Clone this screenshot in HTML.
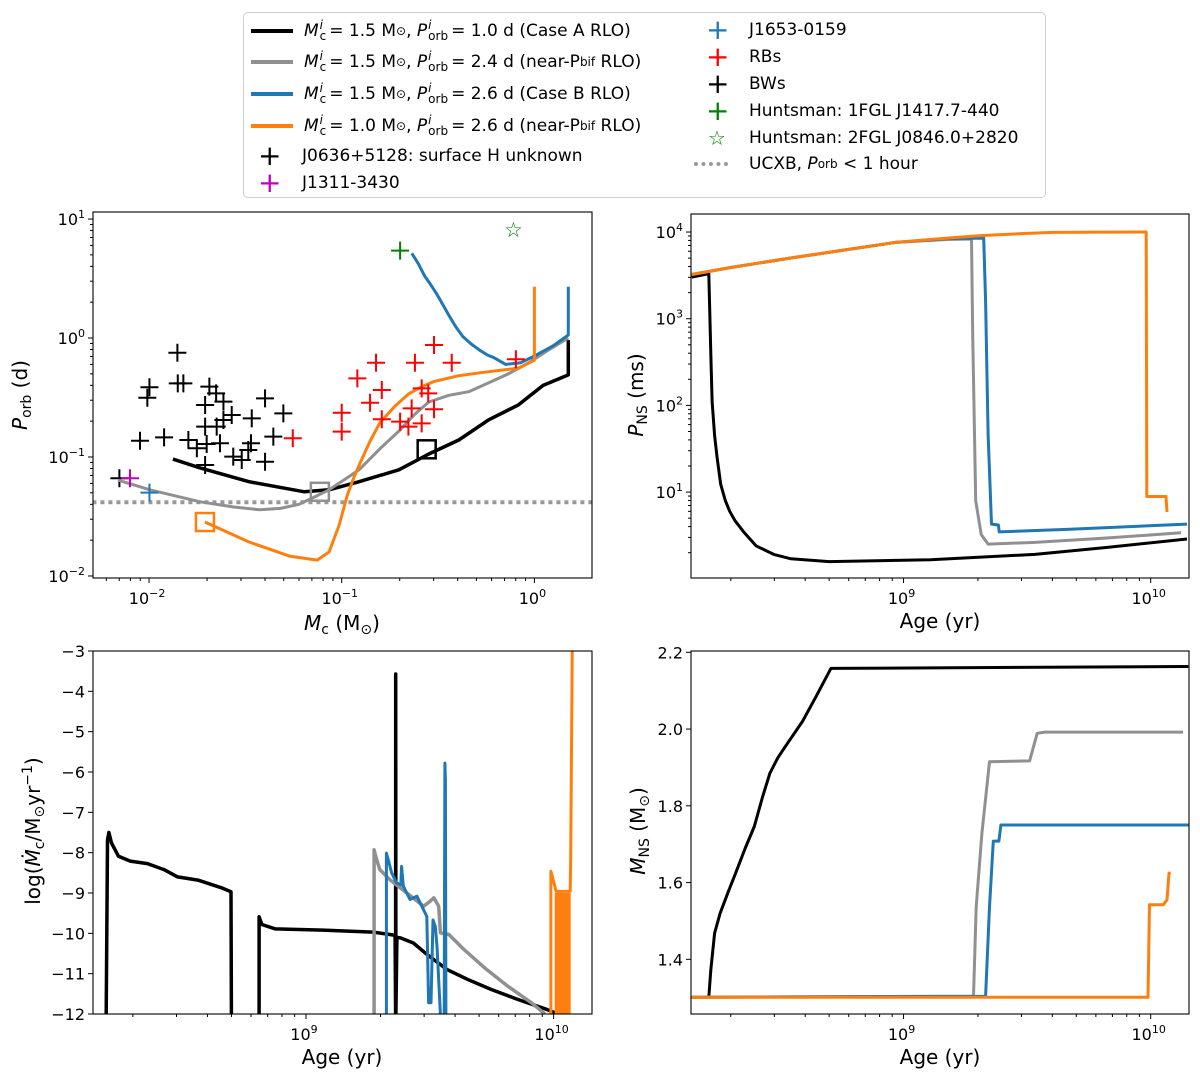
<!DOCTYPE html>
<html><head><meta charset="utf-8">
<style>
html,body{margin:0;padding:0;background:#fff;}
#wrap{position:relative;width:1200px;height:1080px;overflow:hidden;font-family:"DejaVu Sans","Liberation Sans",sans-serif;}
#legend{position:absolute;left:243px;top:12px;width:801px;height:184px;border:1px solid #cfcfcf;border-radius:5px;background:#fff;}
.lrow{position:absolute;height:26px;display:flex;align-items:center;font-size:17px;color:#000;white-space:nowrap;}
.ss{display:inline-flex;flex-direction:column;font-size:12px;line-height:11px;vertical-align:middle;margin:0 3px 0 1px;}
.ss span:first-child{font-style:italic;}
.sub{font-size:12px;vertical-align:-4px;}
svg text{font-family:"DejaVu Sans","Liberation Sans",sans-serif;}
</style></head>
<body>
<div id="wrap">
<svg id="fig" width="1200" height="1080" xmlns="http://www.w3.org/2000/svg" style="position:absolute;left:0;top:0"></svg>
<div id="legend">
  <div class="lrow" style="left:7px;top:5px"><span style="display:inline-block;width:42px;height:4px;background:#000;margin-right:11px"></span><i>M</i><span class="ss"><span>i</span><span>c</span></span>= 1.5 M<span class="sub">⊙</span>, <i>&nbsp;P</i><span class="ss"><span>i</span><span>orb</span></span>= 1.0 d (Case A RLO)</div>
  <div class="lrow" style="left:7px;top:36px"><span style="display:inline-block;width:42px;height:4px;background:#909090;margin-right:11px"></span><i>M</i><span class="ss"><span>i</span><span>c</span></span>= 1.5 M<span class="sub">⊙</span>, <i>&nbsp;P</i><span class="ss"><span>i</span><span>orb</span></span>= 2.4 d (near-P<span class="sub">bif</span>&nbsp;RLO)</div>
  <div class="lrow" style="left:7px;top:68px"><span style="display:inline-block;width:42px;height:4px;background:#1f77b4;margin-right:11px"></span><i>M</i><span class="ss"><span>i</span><span>c</span></span>= 1.5 M<span class="sub">⊙</span>, <i>&nbsp;P</i><span class="ss"><span>i</span><span>orb</span></span>= 2.6 d (Case B RLO)</div>
  <div class="lrow" style="left:7px;top:100px"><span style="display:inline-block;width:42px;height:4px;background:#ff7f0e;margin-right:11px"></span><i>M</i><span class="ss"><span>i</span><span>c</span></span>= 1.0 M<span class="sub">⊙</span>, <i>&nbsp;P</i><span class="ss"><span>i</span><span>orb</span></span>= 2.6 d (near-P<span class="sub">bif</span>&nbsp;RLO)</div>
  <div class="lrow" style="left:14px;top:130px"><span style="display:inline-block;width:22px;font-size:28px;line-height:20px;color:#000;margin-right:22px;text-align:center">+</span>J0636+5128: surface H unknown</div>
  <div class="lrow" style="left:14px;top:157px"><span style="display:inline-block;width:22px;font-size:28px;line-height:20px;color:#bf00bf;margin-right:22px;text-align:center">+</span>J1311-3430</div>
  <div class="lrow" style="left:462px;top:4px"><span style="display:inline-block;width:22px;font-size:28px;line-height:20px;color:#1f77b4;margin-right:21px;text-align:center">+</span>J1653-0159</div>
  <div class="lrow" style="left:462px;top:31px"><span style="display:inline-block;width:22px;font-size:28px;line-height:20px;color:#ff0000;margin-right:21px;text-align:center">+</span>RBs</div>
  <div class="lrow" style="left:462px;top:58px"><span style="display:inline-block;width:22px;font-size:28px;line-height:20px;color:#000;margin-right:21px;text-align:center">+</span>BWs</div>
  <div class="lrow" style="left:462px;top:85px"><span style="display:inline-block;width:22px;font-size:28px;line-height:20px;color:#008000;margin-right:21px;text-align:center">+</span>Huntsman: 1FGL J1417.7-440</div>
  <div class="lrow" style="left:462px;top:112px"><span style="display:inline-block;width:22px;font-size:20px;line-height:20px;color:#008000;margin-right:21px;text-align:center">☆</span>Huntsman: 2FGL J0846.0+2820</div>
  <div class="lrow" style="left:450px;top:138px"><span style="display:inline-block;width:34px;height:0;border-top:4px dotted #999;margin-right:21px"></span>UCXB, <i>&nbsp;P</i><span class="sub">orb</span>&nbsp;&lt; 1 hour</div>
</div>
</div>
<script>
// ---------- Panel 1 data: Mc (Msun) vs Porb (d) ----------
const p1BlackMc   = [0.0133,0.0184,0.033,0.064,0.086,0.123,0.198,0.283,0.405,0.578,0.826,1.11,1.50,1.50];
const p1BlackPorb = [0.096,0.081,0.062,0.051,0.053,0.062,0.078,0.106,0.139,0.205,0.274,0.40,0.49,0.96];
const p1GrayMc    = [0.0069,0.0101,0.0184,0.0275,0.0375,0.048,0.060,0.072,0.086,0.104,0.123,0.16,0.198,0.24,0.283,0.36,0.456,0.58,0.734,0.95,1.18,1.50];
const p1GrayPorb  = [0.064,0.053,0.042,0.038,0.036,0.037,0.040,0.046,0.053,0.065,0.078,0.12,0.165,0.23,0.29,0.33,0.354,0.42,0.50,0.63,0.79,1.0];
const p1BlueMc    = [0.231,0.25,0.27,0.29,0.31,0.335,0.36,0.39,0.425,0.47,0.52,0.57,0.62,0.71,0.85,0.99,1.25,1.5,1.5];
const p1BluePorb  = [5.15,4.2,3.3,2.8,2.37,1.9,1.55,1.25,1.03,0.89,0.79,0.72,0.68,0.60,0.62,0.70,0.86,1.06,2.7];
const p1OrangeMc  = [0.0195,0.033,0.0535,0.0746,0.086,0.097,0.107,0.116,0.125,0.14,0.158,0.19,0.223,0.26,0.30,0.40,0.52,0.83,1.0,1.0];
const p1OrangePorb= [0.0284,0.0193,0.0147,0.0136,0.0159,0.0268,0.048,0.068,0.09,0.135,0.195,0.27,0.34,0.39,0.43,0.48,0.51,0.56,0.65,2.7];
const squareMc    = [0.276,0.077,0.0195];
const squarePorb  = [0.116,0.051,0.0284];
const ucxbPorb    = 1/24;
const bwLogMc = [-1.853,-1.998,-2.009,-1.851,-1.822,-2.047,-1.922,-1.796,-1.752,-1.709,-1.687,-1.652,-1.614,-1.571,-1.709,-1.649,-1.614,-1.701,-1.632,-1.709,-1.563,-1.519,-1.467,-1.471,-1.485,-1.398,-1.355,-1.303,-1.398];
const bwLogP  = [-0.124,-0.414,-0.502,-0.381,-0.381,-0.863,-0.835,-0.857,-0.927,-0.563,-0.409,-0.465,-0.535,-0.647,-0.745,-0.745,-0.689,-0.891,-0.885,-1.067,-0.997,-1.025,-0.675,-0.885,-0.941,-0.507,-0.829,-0.633,-1.040];
const rbLogMc = [-1.254,-1.000,-1.000,-0.919,-0.822,-0.792,-0.853,-0.792,-0.620,-0.521,-0.429,-0.585,-0.551,-0.637,-0.521,-0.697,-0.654,-0.585,-0.096];
const rbLogP  = [-0.843,-0.628,-0.787,-0.339,-0.208,-0.437,-0.544,-0.683,-0.208,-0.059,-0.208,-0.423,-0.465,-0.591,-0.599,-0.703,-0.745,-0.717,-0.179];
const j0636 = [-2.154,-1.179];
const j1311 = [-2.099,-1.179];
const j1653 = [-1.998,-1.300];
const hunts1 = [-0.697,0.734];
const hunts2 = [-0.109,0.908];

// ---------- Panel 2 data: age (Gyr) vs P_NS (ms) ----------
const p2OrangeAge = [0.139,0.2,0.35,0.6,0.929,1.5,2.094,3.0,4.01,9.59,9.64,11.53,11.64];
const p2OrangeP   = [3236,3900,5012,6300,7586,8500,9120,9600,9900,10000,8.9,8.9,5.9];
const p2BlueAge   = [0.139,0.2,0.35,0.6,0.929,1.5,2.11,2.148,2.198,2.270,2.421,2.438,4.72,14.03];
const p2BlueP     = [3236,3900,5012,6300,7586,8400,8511,1585,46.8,4.27,4.17,3.47,3.72,4.27];
const p2GrayAge   = [0.139,0.2,0.35,0.6,0.929,1.5,1.884,1.905,1.959,2.061,2.198,3.40,6.53,13.27];
const p2GrayP     = [3236,3900,5012,6300,7586,8200,8318,661,7.94,3.24,2.51,2.63,2.95,3.39];
const p2BlackAge  = [0.139,0.163,0.164,0.166,0.168,0.172,0.176,0.182,0.190,0.198,0.208,0.225,0.253,0.30,0.350,0.500,1.285,3.40,6.53,14.03];
const p2BlackP    = [3020,3311,1585,400,112,45,25,12.3,8,6,4.68,3.5,2.4,1.9,1.7,1.58,1.66,1.91,2.29,2.88];

// ---------- Panel 3 data: age (Gyr) vs log Mdot ----------
const p3BlackAge = [0.156,0.158,0.160,0.164,0.175,0.195,0.229,0.267,0.303,0.366,0.456,0.498,0.500,null,0.647,0.647,0.664,0.752,1.167,1.866,2.183,2.29,2.30,2.303,2.307,2.33,2.399,2.716,3.076,3.715,4.487,5.585,7.178,9.226,10.44];
const p3BlackMd  = [-12,-7.68,-7.50,-7.76,-8.09,-8.21,-8.27,-8.42,-8.60,-8.68,-8.87,-8.97,-12,null,-12,-9.59,-9.78,-9.89,-9.92,-9.97,-10.03,-10.05,-12,-3.57,-12,-10.1,-10.11,-10.24,-10.52,-10.90,-11.14,-11.39,-11.64,-11.87,-12];
const p3GrayAge  = [1.884,1.884,1.914,1.986,2.183,2.553,2.985,3.177,3.281,3.436,3.491,3.776,4.345,5.248,6.531,8.128,9.226];
const p3GrayMd   = [-12,-7.93,-8.1,-8.42,-8.67,-9.0,-9.33,-9.20,-9.12,-9.33,-9.99,-10.03,-10.40,-10.85,-11.31,-11.72,-12];
const p3BlueAge  = [2.113,2.113,2.148,2.218,2.323,2.415,2.432,2.472,2.630,2.805,3.076,3.126,3.199,3.258,3.327,3.381,3.491,null,3.614,3.639,3.656,3.673];
const p3BlueMd   = [-12,-8.01,-8.17,-8.50,-8.75,-8.80,-8.34,-8.83,-9.16,-9.08,-9.58,-11.72,-11.72,-9.67,-9.83,-10.32,-12,null,-12,-5.78,-6.2,-12];
const p3OrangeAge= [9.75,9.75,9.886,10.23,11.67,11.72,11.91];
const p3OrangeMd = [-12,-8.46,-8.6,-8.96,-8.96,-8.14,-2.5];
const p3OrangeBandAge = [10.1,11.72];
const p3OrangeBandTop = [-9.0,-9.0];

// ---------- Panel 4 data: age (Gyr) vs M_NS ----------
const p4BlackAge = [0.163,0.166,0.172,0.181,0.195,0.209,0.229,0.249,0.268,0.288,0.310,0.332,0.39,0.442,0.508,14.19];
const p4BlackM   = [1.301,1.372,1.468,1.520,1.575,1.624,1.690,1.746,1.820,1.885,1.925,1.954,2.02,2.084,2.158,2.163];
const p4GrayAge  = [0.139,1.919,1.968,2.075,2.228,3.236,3.475,3.733,13.52];
const p4GrayM    = [1.301,1.304,1.537,1.728,1.915,1.917,1.989,1.992,1.992];
const p4BlueAge  = [0.139,2.148,2.228,2.307,2.432,2.477,14.29];
const p4BlueM    = [1.301,1.304,1.537,1.708,1.708,1.750,1.750];
const p4OrangeAge= [0.139,9.75,9.886,11.25,11.64,11.86,12.0];
const p4OrangeM  = [1.301,1.301,1.542,1.542,1.555,1.624,1.627];

// ---------- drawing ----------
const NS='http://www.w3.org/2000/svg';
const svg=document.getElementById('fig');
function mk(tag,attrs,parent){const e=document.createElementNS(NS,tag);for(const k in attrs)e.setAttribute(k,attrs[k]);(parent||svg).appendChild(e);return e;}
function logScale(d0,d1,p0,p1){return v=>p0+(Math.log10(v)-d0)/(d1-d0)*(p1-p0);}
function linScale(d0,d1,p0,p1){return v=>p0+(v-d0)/(d1-d0)*(p1-p0);}
const MINUS='\u2212';
function supLabel(parent,x,y,base,exp,anchor,name){
  const t=mk('text',{x:x,y:y,'font-size':16,'text-anchor':anchor,fill:'#000'},parent);
  
  
  t.appendChild(document.createTextNode(base));
  const s=mk('tspan',{'font-size':11,dy:-7},t);
  s.textContent=String(exp).replace('-',MINUS);
  return t;
}
function panelFrame(id,x0,x1,y0,y1){
  const cp=mk('clipPath',{id:'clip'+id});
  mk('rect',{x:x0,y:y0,width:x1-x0,height:y1-y0},cp);
  const g=mk('g',{'clip-path':'url(#clip'+id+')'});
  
  
  return g;
}
function frameRect(id,x0,x1,y0,y1){
  const r=mk('rect',{x:x0,y:y0,width:x1-x0,height:y1-y0,fill:'none',stroke:'#000','stroke-width':1.1});
  
  
}
function tick(g,x1,y1,x2,y2){mk('line',{x1:x1,y1:y1,x2:x2,y2:y2,stroke:'#000','stroke-width':1},g);}
function logXAxis(id,d0,d1,sx,yb,offset){
  const g=mk('g',{});
  
  
  for(let k=Math.floor(d0);k<=Math.floor(d1);k++){
    for(let m=1;m<=9;m++){
      const lv=k+Math.log10(m); if(lv<d0-1e-9||lv>d1+1e-9) continue;
      const x=sx(Math.pow(10,lv));
      if(m===1){tick(g,x,yb,x,yb+5);supLabel(g,x-2,yb+26,'10',k+offset,'middle','x-tick-label');}
      else tick(g,x,yb,x,yb+3);
    }
  }
}
function logYAxis(id,d0,d1,sy,xl){
  const g=mk('g',{});
  
  
  for(let k=Math.floor(d0);k<=Math.floor(d1);k++){
    for(let m=1;m<=9;m++){
      const lv=k+Math.log10(m); if(lv<d0-1e-9||lv>d1+1e-9) continue;
      const y=sy(Math.pow(10,lv));
      if(m===1){tick(g,xl,y,xl-5,y);supLabel(g,xl-8,y+6,'10',k,'end','y-tick-label');}
      else tick(g,xl,y,xl-3,y);
    }
  }
}
function linYAxis(id,vals,sy,xl,fmt){
  const g=mk('g',{});
  
  
  vals.forEach(v=>{const y=sy(v);tick(g,xl,y,xl-5,y);
    const t=mk('text',{x:xl-8,y:y+6,'font-size':16,'text-anchor':'end'},g);
    
    
    t.textContent=fmt(v);});
}
function line(g,xs,ys,sx,sy,color,w,name){
  let d='',pen=false;
  for(let i=0;i<xs.length;i++){
    if(xs[i]===null){pen=false;continue;}
    d+=(pen?'L':'M')+sx(xs[i]).toFixed(1)+' '+sy(ys[i]).toFixed(1)+' ';pen=true;
  }
  const p=mk('path',{d:d,fill:'none',stroke:color,'stroke-width':w,'stroke-linejoin':'round','stroke-linecap':'butt'},g);
  
  
  return p;
}
function plus(g,x,y,color,name){
  const p=mk('path',{d:`M${x-9} ${y}H${x+9}M${x} ${y-9}V${y+9}`,stroke:color,'stroke-width':2,fill:'none'},g);
  
  
}

// ===== Panel 1 =====
(function(){
  const X0=93,X1=592,Y0=212,Y1=578;
  const sx=logScale(-2.291,0.299,X0,X1), sy=logScale(-2.017,1.059,Y1,Y0);
  const g=panelFrame('porb-vs-mc',X0,X1,Y0,Y1);
  const u=line(g,[0.001,10],[ucxbPorb,ucxbPorb],sx,sy,'#999',4,'ucxb-limit-line');
  u.setAttribute('stroke-dasharray','4 4');
  bwLogMc.forEach((v,i)=>plus(g,sx(Math.pow(10,v)),sy(Math.pow(10,bwLogP[i])),'#000','bw-marker'));
  plus(g,sx(Math.pow(10,j0636[0])),sy(Math.pow(10,j0636[1])),'#000','j0636-marker');
  line(g,p1BlackMc,p1BlackPorb,sx,sy,'#000',3.5,'case-a-track');
  line(g,p1GrayMc,p1GrayPorb,sx,sy,'#909090',3,'near-pbif-15-track');
  line(g,p1BlueMc,p1BluePorb,sx,sy,'#1f77b4',3,'case-b-track');
  line(g,p1OrangeMc,p1OrangePorb,sx,sy,'#ff7f0e',3,'near-pbif-10-track');
  rbLogMc.forEach((v,i)=>plus(g,sx(Math.pow(10,v)),sy(Math.pow(10,rbLogP[i])),'#ff0000','rb-marker'));
  plus(g,sx(Math.pow(10,j1311[0])),sy(Math.pow(10,j1311[1])),'#bf00bf','j1311-marker');
  plus(g,sx(Math.pow(10,j1653[0])),sy(Math.pow(10,j1653[1])),'#1f77b4','j1653-marker');
  plus(g,sx(Math.pow(10,hunts1[0])),sy(Math.pow(10,hunts1[1])),'#008000','huntsman-1fgl-marker');
  const st=mk('text',{x:sx(Math.pow(10,hunts2[0])),y:sy(Math.pow(10,hunts2[1]))+7,'font-size':21,'text-anchor':'middle',fill:'#008000'},g);
  
  
  st.textContent='☆';
  const sqCol=['#000','#909090','#ff7f0e'];
  squareMc.forEach((v,i)=>{const x=sx(v),y=sy(squarePorb[i]);
    const r=mk('rect',{x:x-9,y:y-9,width:18,height:18,fill:'none',stroke:sqCol[i],'stroke-width':2.5},g);
    
    });
  frameRect('porb-vs-mc',X0,X1,Y0,Y1);
  logXAxis('mc',-2.291,0.299,sx,Y1,0);
  logYAxis('porb',-2.017,1.059,sy,X0);
  const xl=mk('text',{x:342,y:630,'font-size':20,'text-anchor':'middle'});
  
  
  xl.innerHTML='<tspan font-style="italic">M</tspan><tspan font-size="14" dy="4">c</tspan><tspan dy="-4"> (M</tspan><tspan font-size="14" dy="4">⊙</tspan><tspan dy="-4">)</tspan>';
  const yl=mk('text',{x:0,y:0,'font-size':20,'text-anchor':'middle',transform:'translate(27,395) rotate(-90)'});
  
  
  yl.innerHTML='<tspan font-style="italic">P</tspan><tspan font-size="14" dy="4">orb</tspan><tspan dy="-4"> (d)</tspan>';
})();

// ===== Panel 2 =====
const AGE0=-0.86, AGE1=1.155; // log10 Gyr
(function(){
  const X0=691,X1=1189,Y0=214,Y1=578;
  const sx=logScale(AGE0,AGE1,X0,X1), sy=logScale(0.009,4.208,Y1,Y0);
  const g=panelFrame('pns-vs-age',X0,X1,Y0,Y1);
  line(g,p2BlackAge,p2BlackP,sx,sy,'#000',3,'case-a-spin');
  line(g,p2GrayAge,p2GrayP,sx,sy,'#909090',3,'near-pbif-15-spin');
  line(g,p2BlueAge,p2BlueP,sx,sy,'#1f77b4',3,'case-b-spin');
  line(g,p2OrangeAge,p2OrangeP,sx,sy,'#ff7f0e',3,'near-pbif-10-spin');
  frameRect('pns-vs-age',X0,X1,Y0,Y1);
  logXAxis('age-top',AGE0,AGE1,sx,Y1,9);
  logYAxis('pns',0.009,4.208,sy,X0);
  const xl=mk('text',{x:940,y:628,'font-size':20,'text-anchor':'middle'});
  
  
  xl.textContent='Age (yr)';
  const yl=mk('text',{x:0,y:0,'font-size':20,'text-anchor':'middle',transform:'translate(643,395) rotate(-90)'});
  
  
  yl.innerHTML='<tspan font-style="italic">P</tspan><tspan font-size="14" dy="4">NS</tspan><tspan dy="-4"> (ms)</tspan>';
})();

// ===== Panel 3 =====
(function(){
  const X0=93,X1=592,Y0=651,Y1=1014;
  const sx=logScale(AGE0,AGE1,X0,X1), sy=linScale(-12,-3,Y1,Y0);
  const g=panelFrame('mdot-vs-age',X0,X1,Y0,Y1);
  line(g,p3BlackAge,p3BlackMd,sx,sy,'#000',3.5,'case-a-mdot');
  line(g,p3GrayAge,p3GrayMd,sx,sy,'#909090',3.5,'near-pbif-15-mdot');
  line(g,p3BlueAge,p3BlueMd,sx,sy,'#1f77b4',3,'case-b-mdot');
  const bx0=sx(p3OrangeBandAge[0]),bx1=sx(p3OrangeBandAge[1]);
  const band=mk('rect',{x:bx0,y:sy(p3OrangeBandTop[0]),width:bx1-bx0,height:sy(-12)-sy(p3OrangeBandTop[0]),fill:'#ff7f0e'},g);
  
  
  line(g,p3OrangeAge,p3OrangeMd,sx,sy,'#ff7f0e',3,'near-pbif-10-mdot');
  frameRect('mdot-vs-age',X0,X1,Y0,Y1);
  logXAxis('age-bl',AGE0,AGE1,sx,Y1,9);
  linYAxis('mdot',[-12,-11,-10,-9,-8,-7,-6,-5,-4,-3],sy,X0,v=>String(v).replace('-',MINUS));
  const xl=mk('text',{x:342,y:1064,'font-size':20,'text-anchor':'middle'});
  
  
  xl.textContent='Age (yr)';
  const yl=mk('text',{x:0,y:0,'font-size':20,'text-anchor':'middle',transform:'translate(40,831) rotate(-90)'});
  
  
  yl.innerHTML='log(<tspan font-style="italic">Ṁ</tspan><tspan font-size="14" dy="4">c</tspan><tspan dy="-4">/M</tspan><tspan font-size="14" dy="4">⊙</tspan><tspan dy="-4">yr</tspan><tspan font-size="14" dy="-8">'+MINUS+'1</tspan><tspan dy="8">)</tspan>';
})();

// ===== Panel 4 =====
(function(){
  const X0=691,X1=1189,Y0=651,Y1=1014;
  const sx=logScale(AGE0,AGE1,X0,X1), sy=linScale(1.2575,2.2034,Y1,Y0);
  const g=panelFrame('mns-vs-age',X0,X1,Y0,Y1);
  line(g,p4BlackAge,p4BlackM,sx,sy,'#000',3,'case-a-mns');
  line(g,p4GrayAge,p4GrayM,sx,sy,'#909090',3,'near-pbif-15-mns');
  line(g,p4BlueAge,p4BlueM,sx,sy,'#1f77b4',3,'case-b-mns');
  line(g,p4OrangeAge,p4OrangeM,sx,sy,'#ff7f0e',3,'near-pbif-10-mns');
  frameRect('mns-vs-age',X0,X1,Y0,Y1);
  logXAxis('age-br',AGE0,AGE1,sx,Y1,9);
  linYAxis('mns',[1.4,1.6,1.8,2.0,2.2],sy,X0,v=>v.toFixed(1));
  const xl=mk('text',{x:940,y:1064,'font-size':20,'text-anchor':'middle'});
  
  
  xl.textContent='Age (yr)';
  const yl=mk('text',{x:0,y:0,'font-size':20,'text-anchor':'middle',transform:'translate(645,831) rotate(-90)'});
  
  
  yl.innerHTML='<tspan font-style="italic">M</tspan><tspan font-size="14" dy="4">NS</tspan><tspan dy="-4"> (M</tspan><tspan font-size="14" dy="4">⊙</tspan><tspan dy="-4">)</tspan>';
})();
</script>
</body></html>
